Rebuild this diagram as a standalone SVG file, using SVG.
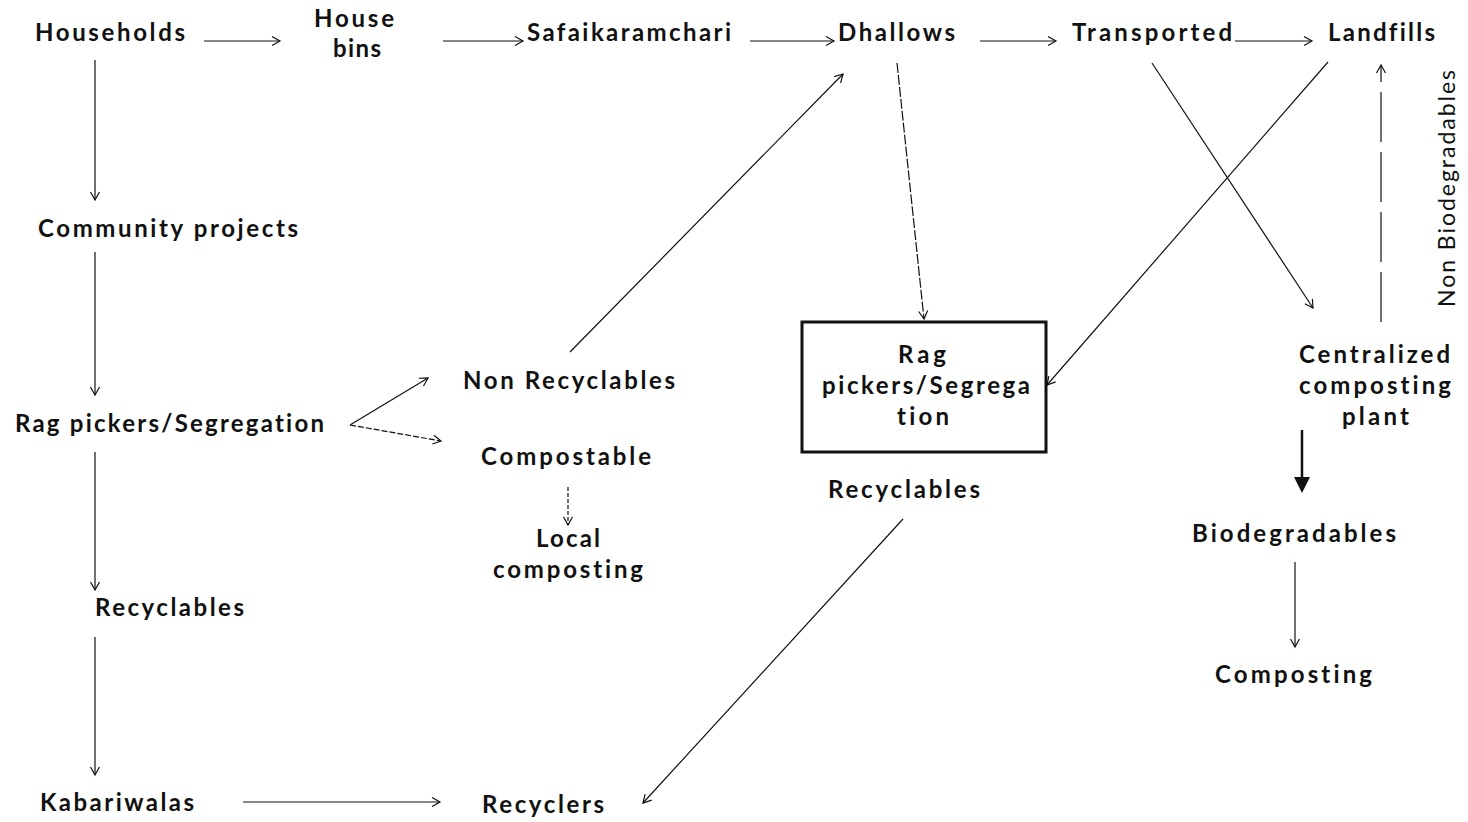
<svg xmlns="http://www.w3.org/2000/svg" width="1468" height="822" viewBox="0 0 1468 822">
<style>
text{font-variant-ligatures:none;font-feature-settings:"liga" 0,"clig" 0}
.t{font-family:Lato,"Open Sans","Liberation Sans",sans-serif;font-size:24px;font-weight:bold;fill:#111}
.s{font-family:Lato,"Open Sans","Liberation Sans",sans-serif;font-size:23px;font-weight:normal;fill:#111}
.c{stroke:#111;stroke-width:1.2;fill:none}
.d{stroke-dasharray:10 2}
.box{fill:#fff;stroke:#111;stroke-width:3}
</style>
<defs>
<marker id="a" markerUnits="userSpaceOnUse" markerWidth="12" markerHeight="12" viewBox="-10 -6 12 12" refX="0" refY="0" orient="auto">
<path d="M-8,-4.5 L0,0 L-8,4.5" fill="none" stroke="#111" stroke-width="1.2"/>
</marker>
</defs>
<rect width="1468" height="822" fill="#fff"/>
<g id="connectors">
<line class="c" x1="204" y1="41" x2="280" y2="41" marker-end="url(#a)"/>
<line class="c" x1="443" y1="41" x2="523" y2="41" marker-end="url(#a)"/>
<line class="c" x1="750" y1="41" x2="834" y2="41" marker-end="url(#a)"/>
<line class="c" x1="980" y1="41" x2="1056" y2="41" marker-end="url(#a)"/>
<line class="c" x1="1235" y1="41" x2="1312" y2="41" marker-end="url(#a)"/>
<line class="c" x1="95" y1="60" x2="95" y2="200" marker-end="url(#a)"/>
<line class="c" x1="95" y1="252" x2="95" y2="395" marker-end="url(#a)"/>
<line class="c" x1="95" y1="452" x2="95" y2="590" marker-end="url(#a)"/>
<line class="c" x1="95" y1="637" x2="95" y2="775" marker-end="url(#a)"/>
<line class="c" x1="243" y1="802" x2="440" y2="802" marker-end="url(#a)"/>
<line class="c" x1="350" y1="425" x2="428" y2="378" marker-end="url(#a)"/>
<line class="c" x1="350" y1="425" x2="441" y2="441" stroke-dasharray="6 2" marker-end="url(#a)"/>
<line class="c" x1="568" y1="487" x2="568" y2="525" stroke-dasharray="4 2" marker-end="url(#a)"/>
<line class="c" x1="570" y1="352" x2="843" y2="74" marker-end="url(#a)"/>
<line class="c d" x1="897" y1="63" x2="924" y2="319" marker-end="url(#a)"/>
<line class="c" x1="1328" y1="62" x2="1047" y2="385" marker-end="url(#a)"/>
<line class="c" x1="1152" y1="63" x2="1313" y2="308" marker-end="url(#a)"/>
<line class="c" x1="1381" y1="322" x2="1381" y2="65" stroke-dasharray="50 10" marker-end="url(#a)"/>
<line x1="1302" y1="430" x2="1302" y2="479" stroke="#111" stroke-width="2.5"/>
<path d="M1294,477 L1310,477 L1302,493 Z" fill="#111"/>
<line class="c" x1="1295" y1="562" x2="1295" y2="647" marker-end="url(#a)"/>
<line class="c" x1="903" y1="519" x2="643" y2="803" marker-end="url(#a)"/>
</g>
<g id="households"><text class="t" x="35" y="41" textLength="150" lengthAdjust="spacing">Households</text></g>
<g id="housebins"><text class="t" x="314" y="27" textLength="80" lengthAdjust="spacing">House</text><text class="t" x="333" y="57" textLength="48" lengthAdjust="spacing">bins</text></g>
<g id="safai"><text class="t" x="527" y="41" textLength="204" lengthAdjust="spacing">Safaikaramchari</text></g>
<g id="dhallows"><text class="t" x="838" y="41" textLength="117" lengthAdjust="spacing">Dhallows</text></g>
<g id="transported"><text class="t" x="1072" y="41" textLength="160" lengthAdjust="spacing">Transported</text></g>
<g id="landfills"><text class="t" x="1328" y="41" textLength="107" lengthAdjust="spacing">Landfills</text></g>
<g id="community"><text class="t" x="38" y="237" textLength="260" lengthAdjust="spacing">Community projects</text></g>
<g id="ragpickers1"><text class="t" x="15" y="432" textLength="309" lengthAdjust="spacing">Rag pickers/Segregation</text></g>
<g id="nonrecyclables"><text class="t" x="463" y="389" textLength="212" lengthAdjust="spacing">Non Recyclables</text></g>
<g id="compostable"><text class="t" x="481" y="465" textLength="170" lengthAdjust="spacing">Compostable</text></g>
<g id="localcomposting"><text class="t" x="536" y="547" textLength="64" lengthAdjust="spacing">Local</text><text class="t" x="493" y="578" textLength="150" lengthAdjust="spacing">composting</text></g>
<g id="recyclables1"><text class="t" x="95" y="616" textLength="149" lengthAdjust="spacing">Recyclables</text></g>
<g id="kabariwalas"><text class="t" x="40" y="811" textLength="154" lengthAdjust="spacing">Kabariwalas</text></g>
<g id="recyclers"><text class="t" x="482" y="813" textLength="122" lengthAdjust="spacing">Recyclers</text></g>
<g id="ragpickers2"><rect class="box" x="802" y="322" width="244" height="130"/>
<text class="t" x="898" y="363" textLength="48" lengthAdjust="spacing">Rag</text>
<text class="t" x="822" y="394" textLength="208" lengthAdjust="spacing">pickers/Segrega</text>
<text class="t" x="897" y="425" textLength="52" lengthAdjust="spacing">tion</text></g>
<g id="recyclables2"><text class="t" x="828" y="498" textLength="152" lengthAdjust="spacing">Recyclables</text></g>
<g id="centralized"><text class="t" x="1299" y="363" textLength="151" lengthAdjust="spacing">Centralized</text>
<text class="t" x="1299" y="394" textLength="152" lengthAdjust="spacing">composting</text>
<text class="t" x="1342" y="425" textLength="67" lengthAdjust="spacing">plant</text></g>
<g id="biodegradables"><text class="t" x="1192" y="542" textLength="204" lengthAdjust="spacing">Biodegradables</text></g>
<g id="composting"><text class="t" x="1215" y="683" textLength="157" lengthAdjust="spacing">Composting</text></g>
<g id="nonbio"><text class="s" transform="translate(1455,307) rotate(-90)" x="0" y="0" textLength="237" lengthAdjust="spacing">Non Biodegradables</text></g>
</svg>
